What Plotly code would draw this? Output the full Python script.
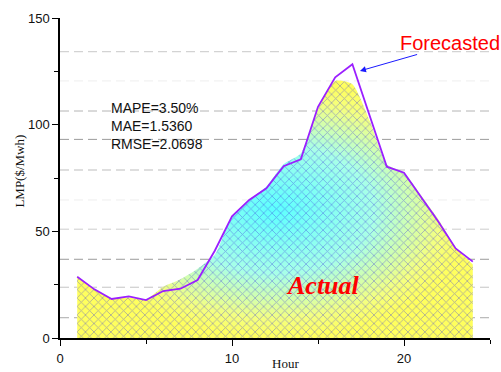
import plotly.graph_objects as go

hours = list(range(1, 25))
actual = [29.0, 23.0, 18.5, 19.0, 18.0, 24.0, 27.5, 32.5, 39.0, 57.0, 64.5, 71.0,
          81.5, 86.5, 107.5, 120.5, 119.0, 102.0, 81.5, 77.5, 66.8, 55.5, 42.5, 34.5]
forecast = [28.7, 22.8, 18.3, 19.5, 17.8, 22.0, 23.1, 27.2, 40.9, 57.0, 64.7, 70.2,
            80.5, 83.8, 108.4, 122.2, 128.3, 104.2, 80.3, 77.5, 66.2, 54.5, 42.0, 35.8]
grid_levels = [9.5, 23.8, 36.9, 51.0, 64.7, 78.75, 93.1, 106.4, 120.5, 134.2]
grid_colors = ["#aaaaaa", "#c4c4c4", "#9a9a9a", "#cccccc", "#eeeeee",
               "#bdbdbd", "#9a9a9a", "#b4b4b4", "#eeeeee", "#c8c8c8"]
metrics = ["MAPE=3.50%", "MAE=1.5360", "RMSE=2.0698"]

fig = go.Figure()

fig.add_trace(go.Scatter(
    x=hours, y=actual, mode="lines", fill="tozeroy",
    line=dict(width=0, shape="spline", smoothing=0.6),
    fillgradient=dict(type="radial",
                      colorscale=[[0, "#5cffff"], [0.5, "#a8ffe8"], [0.85, "#f4ff80"], [1, "#ffff5e"]]),
    showlegend=False, hoverinfo="skip"))

fig.add_trace(go.Scatter(
    x=hours, y=actual, mode="lines", fill="tozeroy",
    line=dict(width=0, shape="spline", smoothing=0.6),
    fillcolor="rgba(0,0,0,0)",
    fillpattern=dict(shape="x", fgcolor="rgba(60,60,220,0.9)",
                     bgcolor="rgba(0,0,0,0)", size=6, solidity=0.25,
                     fillmode="overlay"),
    showlegend=False, hoverinfo="skip"))

fig.add_trace(go.Scatter(
    x=hours, y=forecast, mode="lines",
    line=dict(color="#9b1fff", width=1.8),
    showlegend=False))

for lvl, col in zip(grid_levels, grid_colors):
    fig.add_shape(type="line", xref="paper", yref="y", x0=0, x1=1, y0=lvl, y1=lvl,
                  line=dict(color=col, width=1, dash="9px,5px"), layer="below")

fig.add_annotation(x=17.44, y=125.2, ax=20.85, ay=133.1, xref="x", yref="y",
                   axref="x", ayref="y", text="", showarrow=True,
                   arrowhead=2, arrowsize=1.2, arrowwidth=1, arrowcolor="#1a1aff")
fig.add_annotation(x=22.7, y=138.5, xref="x", yref="y", text="Forecasted",
                   showarrow=False, font=dict(family="Arial, Liberation Sans", size=20, color="#ff0000"))
fig.add_annotation(x=2.85, y=99.3, xref="x", yref="y", text="<br>".join(metrics),
                   showarrow=False, xanchor="left", yanchor="middle", align="left",
                   font=dict(family="Arial, Liberation Sans", size=14, color="#111111"))
fig.add_annotation(x=15.3, y=24.5, xref="x", yref="y", text="<b><i>Actual</i></b>",
                   showarrow=False,
                   font=dict(family="Liberation Serif, Times New Roman", size=26, color="#ff0000"))
fig.add_annotation(x=(285 - 60) / 430, y=-0.079, xref="paper", yref="paper", text="Hour",
                   showarrow=False, yanchor="middle",
                   font=dict(family="Liberation Serif, Times New Roman", size=13, color="#111111"))
fig.add_annotation(x=-0.093, y=0.52, xref="paper", yref="paper", text="LMP($/Mwh)",
                   showarrow=False, textangle=-90, xanchor="center",
                   font=dict(family="Liberation Serif, Times New Roman", size=13, color="#111111"))

axis_font = dict(family="Arial, Liberation Sans", size=13, color="#111111")
fig.update_layout(
    width=501, height=372,
    margin=dict(l=60, r=11, t=18, b=34, autoexpand=False),
    plot_bgcolor="white", paper_bgcolor="white",
    xaxis=dict(range=[0, 25], tickvals=[0, 10, 20], showgrid=False, zeroline=False,
               automargin=False,
               showline=True, linecolor="black", linewidth=1.5,
               ticks="outside", ticklen=6, tickwidth=1.2, tickcolor="black",
               ticklabelstandoff=2,
               minor=dict(tickvals=[5, 15, 25], ticks="outside", ticklen=4,
                          tickcolor="black", showgrid=False),
               tickfont=axis_font),
    yaxis=dict(range=[0, 150], tickvals=[0, 50, 100, 150], showgrid=False, zeroline=False,
               automargin=False,
               showline=True, linecolor="black", linewidth=1.5,
               ticks="outside", ticklen=6, tickwidth=1.2, tickcolor="black",
               minor=dict(tickvals=[25, 75, 125], ticks="outside", ticklen=4,
                          tickcolor="black", showgrid=False),
               tickfont=axis_font),
)

fig.write_html("out.html")
